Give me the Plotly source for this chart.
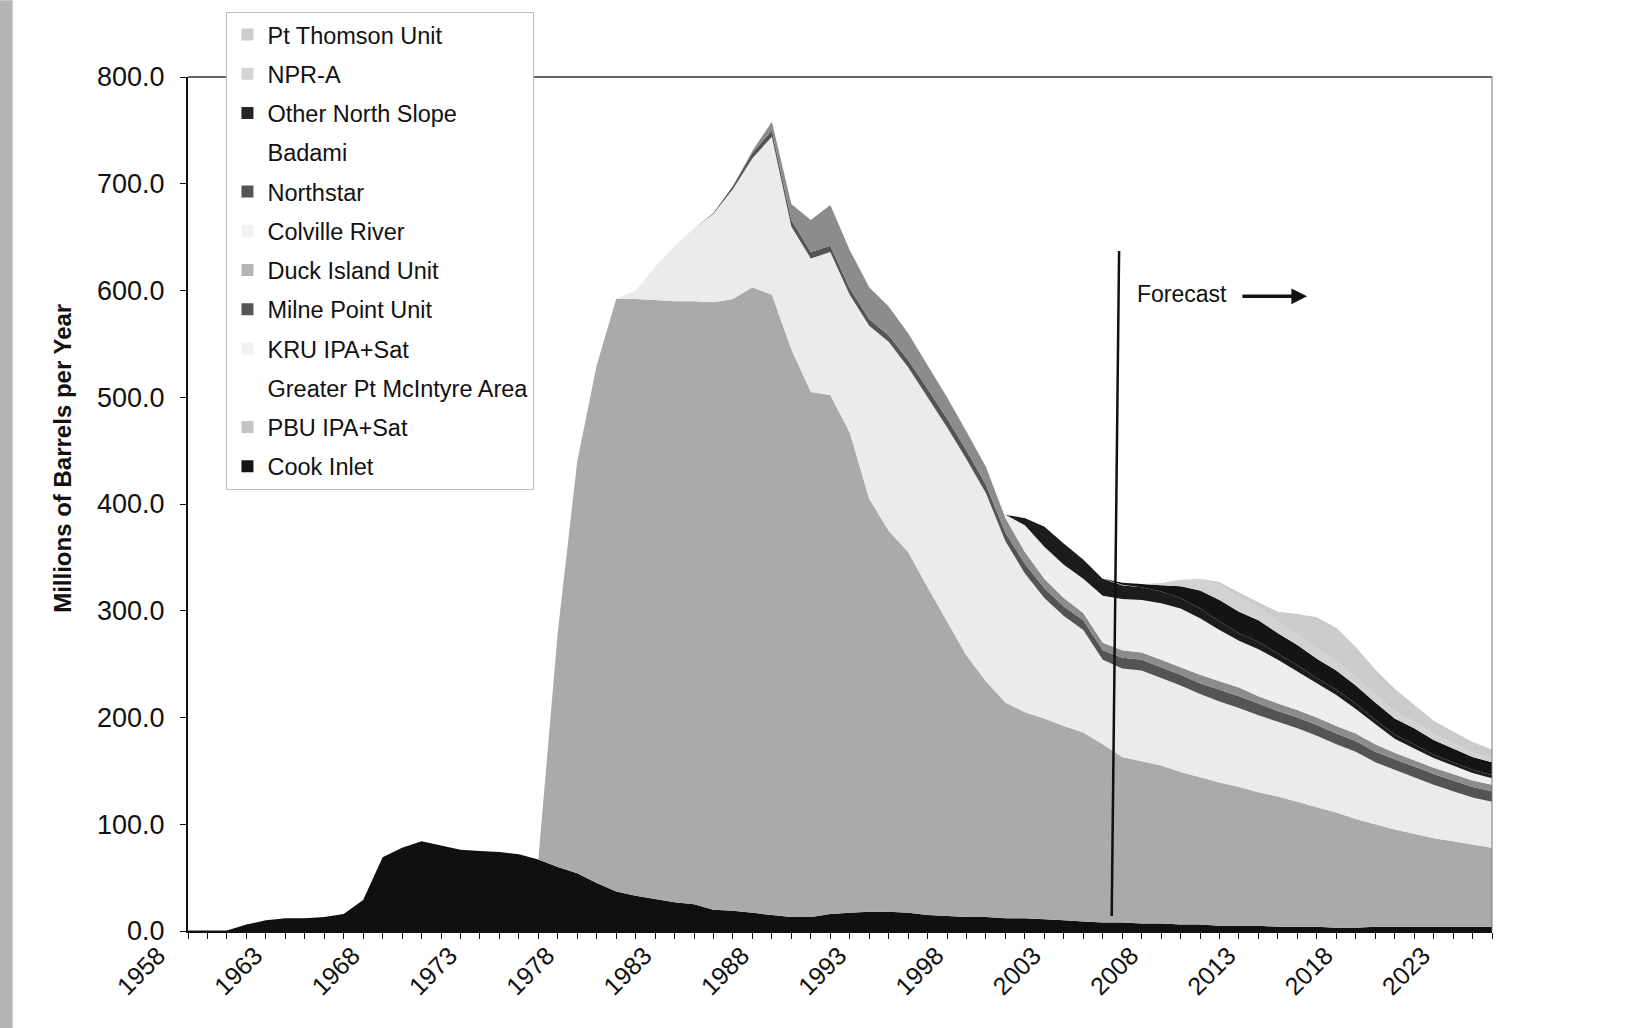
import plotly.graph_objects as go

years = list(range(1958, 2026))

# Millions of barrels per year, 1958..2025 (68 values each)
cook_inlet = [0.5, 0.5, 0.5, 6, 10, 12, 12, 13, 16, 29,
              69, 78, 84, 80, 76, 75, 74, 72, 67, 60,
              54, 45, 37, 33, 30, 27, 25, 20, 19, 17,
              15, 13, 13, 16, 17, 18, 18, 17, 15, 14,
              13, 13, 12, 12, 11, 10, 9, 8, 8, 7,
              7, 6, 6, 5, 5, 5, 4, 4, 4, 3,
              3, 4, 4, 4, 4, 4, 4, 4]
pbu_ipa_sat = [0, 0, 0, 0, 0, 0, 0, 0, 0, 0,
               0, 0, 0, 0, 0, 0, 0, 0, 0, 220,
               386, 485, 555, 559, 561, 563, 565, 569, 573, 586,
               581, 532, 492, 486, 450, 387, 357, 338, 307, 276,
               245, 221, 202, 193, 188, 182, 177, 167, 155, 152,
               148, 143, 138, 134, 130, 125, 122, 117, 112, 108,
               102, 96, 91, 87, 83, 80, 77, 74]
greater_pt_mcintyre = [0, 0, 0, 0, 0, 0, 0, 0, 0, 0,
                       0, 0, 0, 0, 0, 0, 0, 0, 0, 0,
                       0, 0, 0, 0, 0, 0, 0, 0, 0, 0,
                       0, 0, 0, 0, 0, 30, 50, 55, 55, 52,
                       48, 42, 36, 32, 28, 25, 23, 20, 18, 17,
                       16, 15, 14, 13, 13, 12, 12, 11, 11, 10,
                       10, 9, 9, 9, 8, 8, 8, 8]
kru_ipa_sat = [0, 0, 0, 0, 0, 0, 0, 0, 0, 0,
               0, 0, 0, 0, 0, 0, 0, 0, 0, 0,
               0, 0, 0, 8, 31, 52, 68, 83, 103, 121,
               148, 115, 125, 134, 129, 132, 127, 118, 123, 130,
               136, 134, 115, 98, 85, 78, 73, 59, 65, 68,
               66, 66, 64, 63, 61, 60, 58, 58, 56, 54,
               53, 49, 47, 44, 42, 39, 36, 35]
milne_point = [0, 0, 0, 0, 0, 0, 0, 0, 0, 0,
               0, 0, 0, 0, 0, 0, 0, 0, 0, 0,
               0, 0, 0, 0, 0, 0, 0, 0.5, 3, 5,
               6, 6, 6, 6, 6, 6, 6, 7, 8, 8,
               8, 8, 8, 9, 9, 9, 9, 9, 10, 10,
               10, 10, 10, 11, 11, 11, 10, 10, 10, 10,
               10, 10, 10, 10, 10, 10, 10, 10]
duck_island = [0, 0, 0, 0, 0, 0, 0, 0, 0, 0,
               0, 0, 0, 0, 0, 0, 0, 0, 0, 0,
               0, 0, 0, 0, 0, 0, 0, 0, 0, 2,
               8, 15, 30, 38, 36, 30, 27, 25, 22, 20,
               18, 17, 14, 11, 9, 8, 7, 7, 7, 7,
               7, 7, 8, 8, 8, 7, 7, 7, 7, 7,
               7, 7, 6, 6, 6, 6, 6, 6]
colville_river = [0, 0, 0, 0, 0, 0, 0, 0, 0, 0,
                  0, 0, 0, 0, 0, 0, 0, 0, 0, 0,
                  0, 0, 0, 0, 0, 0, 0, 0, 0, 0,
                  0, 0, 0, 0, 0, 0, 0, 0, 0, 0,
                  0, 0, 3, 25, 30, 31, 32, 44, 48, 49,
                  53, 55, 53, 48, 44, 44, 41, 36, 32, 29,
                  23, 19, 13, 11, 9, 8, 7, 6]
northstar = [0, 0, 0, 0, 0, 0, 0, 0, 0, 0,
             0, 0, 0, 0, 0, 0, 0, 0, 0, 0,
             0, 0, 0, 0, 0, 0, 0, 0, 0, 0,
             0, 0, 0, 0, 0, 0, 0, 0, 0, 0,
             0, 0, 0, 7, 19, 20, 18, 16, 13, 12,
             11, 10, 9, 8, 7, 7, 6, 6, 5, 5,
             5, 4, 4, 4, 3, 3, 3, 3]
badami = [0, 0, 0, 0, 0, 0, 0, 0, 0, 0,
          0, 0, 0, 0, 0, 0, 0, 0, 0, 0,
          0, 0, 0, 0, 0, 0, 0, 0, 0, 0,
          0, 0, 0, 0, 0, 0, 0, 0, 0, 0,
          0.3, 0.3, 0.3, 0.3, 0.3, 0.3, 0.3, 0.3, 0.3, 0,
          0, 0, 0, 0, 0, 0, 0, 0, 0, 0,
          0, 0, 0, 0, 0, 0, 0, 0]
other_north_slope = [0, 0, 0, 0, 0, 0, 0, 0, 0, 0,
                     0, 0, 0, 0, 0, 0, 0, 0, 0, 0,
                     0, 0, 0, 0, 0, 0, 0, 0, 0, 0,
                     0, 0, 0, 0, 0, 0, 0, 0, 0, 0,
                     0, 0, 0, 0, 0, 0, 0, 0, 2, 3,
                     6, 11, 17, 20, 20, 20, 19, 19, 18, 18,
                     17, 16, 15, 15, 14, 13, 12, 12]
npr_a = [0, 0, 0, 0, 0, 0, 0, 0, 0, 0,
         0, 0, 0, 0, 0, 0, 0, 0, 0, 0,
         0, 0, 0, 0, 0, 0, 0, 0, 0, 0,
         0, 0, 0, 0, 0, 0, 0, 0, 0, 0,
         0, 0, 0, 0, 0, 0, 0, 0, 0, 0,
         2, 6, 11, 14, 14, 12, 11, 10, 10, 9,
         8, 7, 7, 6, 5, 5, 4, 4]
pt_thomson = [0, 0, 0, 0, 0, 0, 0, 0, 0, 0,
              0, 0, 0, 0, 0, 0, 0, 0, 0, 0,
              0, 0, 0, 0, 0, 0, 0, 0, 0, 0,
              0, 0, 0, 0, 0, 0, 0, 0, 0, 0,
              0, 0, 0, 0, 0, 0, 0, 0, 0, 0,
              0, 0, 0, 3, 4, 5, 9, 19, 29, 31,
              28, 24, 21, 16, 13, 11, 10, 8]

y_ticks = [0, 100, 200, 300, 400, 500, 600, 700, 800]

# stacking order bottom -> top: (name, values, area colour, legend marker colour)
series = [
    ("Cook Inlet", cook_inlet, "#101010", "#141414"),
    ("PBU IPA+Sat", pbu_ipa_sat, "#aaaaaa", "#c4c4c4"),
    ("Greater Pt McIntyre Area", greater_pt_mcintyre, "#ebebeb", "#ffffff"),
    ("KRU IPA+Sat", kru_ipa_sat, "#ebebeb", "#f3f3f3"),
    ("Milne Point Unit", milne_point, "#545454", "#555555"),
    ("Duck Island Unit", duck_island, "#8c8c8c", "#b4b4b4"),
    ("Colville River", colville_river, "#eeeeee", "#f2f2f2"),
    ("Northstar", northstar, "#1c1c1c", "#555555"),
    ("Badami", badami, "#f4f4f4", "#ffffff"),
    ("Other North Slope", other_north_slope, "#141414", "#252525"),
    ("NPR-A", npr_a, "#d2d2d2", "#d4d4d4"),
    ("Pt Thomson Unit", pt_thomson, "#cbcbcb", "#cdcdcd"),
]

fig = go.Figure()
for name, vals, col, _ in series:
    fig.add_trace(go.Scatter(
        x=years, y=vals, stackgroup="one", mode="none",
        fillcolor=col, name=name, showlegend=False, hoverinfo="skip"))

# legend entries (top to bottom as in the reference)
for name, vals, col, mcol in reversed(series):
    fig.add_trace(go.Scatter(
        x=[None], y=[None], mode="markers", name=name, legendgroup=name,
        marker=dict(symbol="square", size=11, color=mcol, line=dict(width=0))))

FONT = "Liberation Sans, Arial, sans-serif"

fig.update_layout(
    width=1652, height=1028,
    margin=dict(l=188, r=160, t=74, b=97),
    paper_bgcolor="white", plot_bgcolor="white",
    font=dict(family=FONT, color="#111111"),
    showlegend=True,
    legend=dict(x=0.0295, y=1.0765, xanchor="left", yanchor="top",
                bgcolor="white", bordercolor="#bdbdbd", borderwidth=1,
                font=dict(family=FONT, size=23.5, color="#111111"),
                tracegroupgap=5.7, itemsizing="constant"),
    xaxis=dict(range=[1958, 2025], tick0=1958, dtick=5, tickangle=-45,
               showgrid=False, zeroline=False, showline=True,
               linecolor="#111111", linewidth=2, ticks="outside", ticklen=6,
               tickcolor="#111111", ticklabelshift=-30, ticklabelstandoff=-8,
               tickfont=dict(size=25, family=FONT, color="#111111"),
               minor=dict(dtick=1, tick0=1958, ticks="outside", ticklen=6,
                          tickcolor="#111111")),
    yaxis=dict(range=[0, 800], tickvals=y_ticks, tickformat=".1f",
               showgrid=False, zeroline=False, showline=True,
               linecolor="#111111", linewidth=2, ticks="outside", ticklen=6,
               tickcolor="#111111", ticklabelstandoff=10,
               tickfont=dict(size=27, family=FONT, color="#111111")),
)

# plot frame (top and right)
fig.add_shape(type="line", xref="paper", yref="paper", x0=0, x1=1, y0=1, y1=1,
              line=dict(color="#333333", width=1.5))
fig.add_shape(type="line", xref="paper", yref="paper", x0=1, x1=1, y0=0, y1=1,
              line=dict(color="#777777", width=1))
# scanned page edge on the left
fig.add_shape(type="rect", xref="paper", yref="paper", x0=-0.1445, x1=-0.1345,
              y0=-0.12, y1=1.09, fillcolor="#b4b4b4", line=dict(width=0))

# forecast divider
fig.add_shape(type="line", xref="x", yref="y", x0=2005.46, y0=14, x1=2005.84, y1=637,
              line=dict(color="#111111", width=2.5))
fig.add_annotation(x=2006.65, y=596.6, xref="x", yref="y", text="Forecast",
                   showarrow=False, xanchor="left", yanchor="middle",
                   font=dict(family=FONT, size=23, color="#111111"))
fig.add_annotation(x=2015.5, y=594.5, ax=2012.1, ay=594.5, xref="x", yref="y",
                   axref="x", ayref="y", text="", showarrow=True,
                   arrowhead=2, arrowsize=0.9, arrowwidth=3.5, arrowcolor="#111111")

# y-axis title
fig.add_annotation(x=-0.0958, y=0.553, xref="paper", yref="paper",
                   text="<b>Millions of Barrels per Year</b>", textangle=-90,
                   showarrow=False, xanchor="center", yanchor="middle",
                   font=dict(family=FONT, size=24, color="#111111"))

fig.write_html("out.html", config={"displayModeBar": False},
               post_script="document.body.style.margin='0px';")
